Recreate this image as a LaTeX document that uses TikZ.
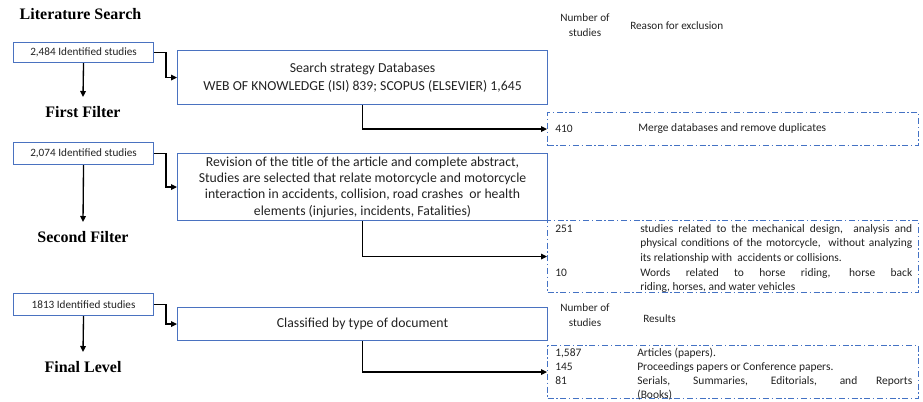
\documentclass[tikz,border=0pt]{standalone}
\usepackage{fontspec}
\setmainfont{Carlito}
\newfontfamily\titlefont{Liberation Serif}
\usetikzlibrary{arrows.meta}
\definecolor{boxblue}{HTML}{4A72C0}
\definecolor{dashblue}{HTML}{4472C4}
\definecolor{txt}{HTML}{222222}
\begin{document}
\begin{tikzpicture}[x=0.75pt,y=-0.75pt,
  every node/.style={text=txt},
  solidbox/.style={draw=boxblue, line width=0.8pt, inner sep=0pt, anchor=north west, align=center,
    minimum width=277.5pt, font=\fontsize{10.3}{12.2}\selectfont},
  smallbox/.style={draw=boxblue, line width=0.8pt, inner sep=0pt, anchor=north west,
    minimum width=105pt, font=\fontsize{8.4}{10}\selectfont},
  exclbox/.style={draw=dashblue, line width=0.8pt, dash pattern=on 4.5pt off 2pt on 1pt off 2pt,
    inner sep=0pt, anchor=north west, minimum width=278.25pt},
  level/.style={inner sep=0pt, font=\titlefont\bfseries\fontsize{12}{14}\selectfont, text=black},
  hdr/.style={inner sep=0pt, align=center, font=\fontsize{8.4}{11.25}\selectfont},
  cell/.style={inner sep=0pt, anchor=west, font=\fontsize{8.6}{10.9}\selectfont},
  link/.style={draw=black, line width=1pt, -{Triangle[length=4.5pt,width=4.2pt]}}
]
\useasboundingbox (0,0) rectangle (923,401);

% ---------- Literature search / first filter ----------
\node[level] (lit) at (80.5,14) {Literature Search};
\node[smallbox, minimum height=15pt] (b1) at (13,42) {2,484 Identified studies};
\node[solidbox, minimum height=40.5pt, font=\fontsize{10.3}{13.5}\selectfont] (b2) at (177,50)
  {Search strategy Databases\\WEB OF KNOWLEDGE (ISI) 839; SCOPUS (ELSEVIER) 1,645};
\coordinate (a1) at (83,97);
\node[level] (f1) at (83,112) {First Filter};

\node[hdr] (h1) at (585,25.5) {Number of\\studies};
\node[hdr, anchor=west] (h1r) at (630,25.5) {Reason for exclusion};

\node[exclbox, minimum height=24.75pt] (d1) at (547,112) {};
\node[cell] (d1n) at (555,128.5) {410};
\node[cell] (d1t) at (638,128.5) {Merge databases and remove duplicates};

\draw[link] (b1.east) -- ++(12,0) |- (b2.west);
\draw[link] (b1.south) -- (a1);
\draw[link] (b2.south) |- (d1.west);

% ---------- Second filter ----------
\node[smallbox, minimum height=16.5pt] (b3) at (13,142) {2,074 Identified studies};
\node[solidbox, minimum height=50.25pt] (b4) at (177,153)
  {Revision of the title of the article and complete abstract,\\
   Studies are selected that relate motorcycle and motorcycle\\
   interaction in accidents, collision, road crashes\ \ or health\\
   elements (injuries, incidents, Fatalities)};
\coordinate (a2) at (83,222);
\node[level] (f2) at (83,237) {Second Filter};

\node[exclbox, minimum height=54pt] (d2) at (547,220) {};
\node[inner sep=0pt, anchor=north west, font=\fontsize{8.6}{10.9}\selectfont] (d2t) at (555,222)
  {\begin{tabular}{@{}p{63.75pt}@{}p{204pt}@{}}
   251 & studies related to the mechanical design,\ \ analysis and\linebreak
         physical conditions of the motorcycle,\ \ without analyzing\linebreak
         its relationship with\ \ accidents or collisions.\\
   10  & Words related to horse riding, horse back\linebreak
         riding, horses, and water vehicles
   \end{tabular}};

\draw[link] (b3.east) -- ++(12,0) |- (b4.west);
\draw[link] (b3.south) -- (a2);
\draw[link] (b4.south) |- (d2.west);

% ---------- Final level ----------
\node[smallbox, minimum height=16.5pt] (b5) at (13,293) {1813 Identified studies};
\node[solidbox, minimum height=24.75pt] (b6) at (177,307) {Classified by type of document};
\coordinate (a3) at (83,352);
\node[level] (f3) at (83,367) {Final Level};

\node[hdr] (h2) at (585,315.5) {Number of\\studies};
\node[hdr, anchor=west] (h2r) at (643,319) {Results};

\node[exclbox, minimum height=39.75pt] (d3) at (547,345) {};
\node[inner sep=0pt, anchor=north west, font=\fontsize{8.6}{10.5}\selectfont] (d3t) at (555,346.5)
  {\begin{tabular}{@{}p{61.5pt}@{}p{206.25pt}@{}}
   1,587 & Articles (papers).\\
   145   & Proceedings papers or Conference papers.\\
   81    & Serials, Summaries, Editorials, and Reports\linebreak (Books)
   \end{tabular}};

\draw[link] (b5.east) -- ++(12,0) |- (b6.west);
\draw[link] (b5.south) -- (a3);
\draw[link] (b6.south) |- (d3.west);
\end{tikzpicture}
\end{document}
